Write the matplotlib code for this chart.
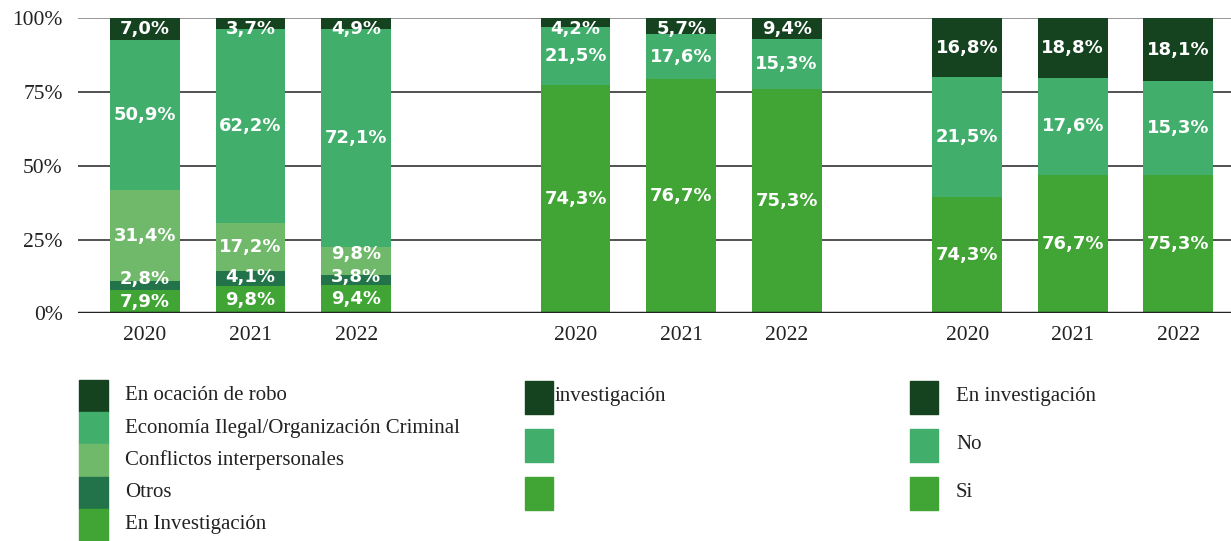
import numpy as np
import matplotlib.pyplot as plt
from matplotlib.patches import Rectangle

years = ["2020", "2021", "2022"]

# grupo 1: heights as drawn, labels as printed
g1_en_inv = [7.9, 9.2, 9.6]
g1_otros = [3.0, 5.1, 3.4]
g1_conflictos = [30.9, 16.3, 9.5]
g1_economia = [50.9, 65.8, 73.9]
g1_robo = [7.3, 3.6, 3.6]
g1_lab_en_inv = ["7,9%", "9,8%", "9,4%"]
g1_lab_otros = ["2,8%", "4,1%", "3,8%"]
g1_lab_conflictos = ["31,4%", "17,2%", "9,8%"]
g1_lab_economia = ["50,9%", "62,2%", "72,1%"]
g1_lab_robo = ["7,0%", "3,7%", "4,9%"]

# grupo 2
g2_si = [77.4, 79.4, 76.0]
g2_no = [19.8, 15.3, 17.0]
g2_inv = [2.8, 5.3, 7.0]
g2_lab_si = ["74,3%", "76,7%", "75,3%"]
g2_lab_no = ["21,5%", "17,6%", "15,3%"]
g2_lab_inv = ["4,2%", "5,7%", "9,4%"]

# grupo 3
g3_si = [39.4, 47.0, 47.0]
g3_no = [40.7, 32.8, 31.8]
g3_inv = [19.9, 20.2, 21.2]
g3_lab_si = ["74,3%", "76,7%", "75,3%"]
g3_lab_no = ["21,5%", "17,6%", "15,3%"]
g3_lab_inv = ["16,8%", "18,8%", "18,1%"]

legend1 = ["En ocación de robo", "Economía Ilegal/Organización Criminal",
           "Conflictos interpersonales", "Otros", "En Investigación"]
legend2 = ["investigación", "", ""]
legend3 = ["En investigación", "No", "Si"]

c_dark = "#15421f"
c_mid = "#42ae6c"
c_light = "#70b96b"
c_otros = "#22734a"
c_green = "#41a535"

serif = "Liberation Serif"

fig = plt.figure(figsize=(12.31, 5.41), dpi=100)
ax = fig.add_axes([78 / 1231, 1 - 313.3 / 541, 1 - 78 / 1231, 295 / 541])

width = 0.66
group_start = [0, 4.08, 7.79]

groups = [
    [(g1_en_inv, g1_lab_en_inv, c_green), (g1_otros, g1_lab_otros, c_otros),
     (g1_conflictos, g1_lab_conflictos, c_light), (g1_economia, g1_lab_economia, c_mid),
     (g1_robo, g1_lab_robo, c_dark)],
    [(g2_si, g2_lab_si, c_green), (g2_no, g2_lab_no, c_mid), (g2_inv, g2_lab_inv, c_dark)],
    [(g3_si, g3_lab_si, c_green), (g3_no, g3_lab_no, c_mid), (g3_inv, g3_lab_inv, c_dark)],
]

xticks = []
for start, series in zip(group_start, groups):
    x = start + np.arange(len(years))
    xticks.extend(x)
    bottom = np.zeros(len(years))
    last_y = np.full(len(years), -10.0)
    for vals, labs, col in series:
        vals = np.array(vals)
        ax.bar(x, vals, width, bottom=bottom, color=col, zorder=2)
        for i, (xi, b, v, t) in enumerate(zip(x, bottom, vals, labs)):
            # keep labels from piling on each other / off the top
            y = max(b + v / 2, last_y[i] + 7.6)
            y = min(y, 96.5)
            last_y[i] = y
            ax.text(xi, y, t, ha="center", va="center", color="white",
                    fontsize=13, fontweight="bold", family="DejaVu Sans", zorder=3)
        bottom += vals

ax.set_xlim(-0.635, 10.29)
ax.set_ylim(0, 100)
ax.set_yticks([0, 25, 50, 75, 100])
ax.set_yticklabels(["0%", "25%", "50%", "75%", "100%"], family=serif, fontsize=15.5, color="#222222")
ax.set_xticks(xticks)
ax.set_xticklabels(years * 3, family=serif, fontsize=15.5, color="#222222")
ax.tick_params(length=0, pad=9)
ax.tick_params(axis="y", pad=11)
for s in ax.spines.values():
    s.set_visible(False)
for yv in [25, 50, 75]:
    ax.axhline(yv, color="#333333", lw=1.2, zorder=1)
ax.axhline(100, color="#888888", lw=1.2, zorder=1)
ax.axhline(0, color="#222222", lw=2.5, zorder=4)

# legend column 1 (stacked boxes)
W, H = 1231, 541
for i, (lab, col) in enumerate(zip(legend1, [c_dark, c_mid, c_light, c_otros, c_green])):
    top = 380 + i * 32.2
    fig.add_artist(Rectangle((79 / W, 1 - (top + 32.2) / H), 29 / W, 32.2 / H,
                             color=col, transform=fig.transFigure))
    fig.text(125 / W, 1 - (top + 16) / H, lab, family=serif, fontsize=15,
             va="center", ha="left", color="#222222")

# legend columns 2 and 3
for x0, tx, labs in [(525, 555, legend2), (910, 956, legend3)]:
    for i, (lab, col) in enumerate(zip(labs, [c_dark, c_mid, c_green])):
        top = 381 + i * 48.2
        fig.add_artist(Rectangle((x0 / W, 1 - (top + 32.5) / H), 28 / W, 32.5 / H,
                                 color=col, transform=fig.transFigure))
        if lab:
            fig.text(tx / W, 1 - (top + 15) / H, lab, family=serif, fontsize=15,
                     va="center", ha="left", color="#222222")

fig.savefig("out.png", dpi=100)
